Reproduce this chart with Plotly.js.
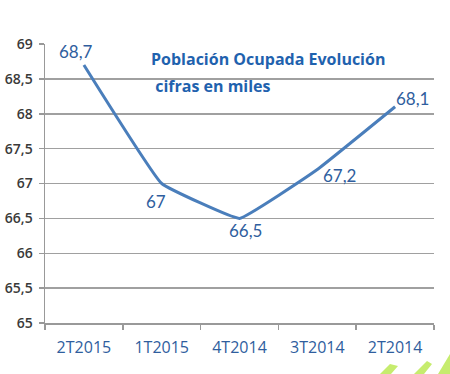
<!DOCTYPE html>
<html>
<head>
<meta charset="utf-8">
<script src="https://cdn.plot.ly/plotly-3.0.1.min.js"></script>
<style>html,body{margin:0;padding:0;background:#fff;}#chart{width:450px;height:374px;}</style>
</head>
<body>
<div id="chart"></div>
<script>
const categories = ["2T2015", "1T2015", "4T2014", "3T2014", "2T2014"];
const values = [68.7, 67.0, 66.5, 67.2, 68.1];
const labels = ["68,7", "67", "66,5", "67,2", "68,1"];
const titleLines = ["Población Ocupada Evolución", " cifras en miles"];

const labelShiftX = [-8, -6, 6, 22, 17];
const labelShiftY = [13, -18, -12, -6, 8];

const M = {l: 45, r: 16, t: 44, b: 51};
const W = 450, H = 374;
const pw = W - M.l - M.r, ph = H - M.t - M.b;
const px2x = v => (v - M.l) / pw;
const px2y = v => (H - M.b - v) / ph;

const annotations = categories.map((c, i) => ({
  x: c, y: values[i], xref: 'x', yref: 'y', text: labels[i], showarrow: false,
  xshift: labelShiftX[i], yshift: labelShiftY[i],
  font: {family: 'Lato, sans-serif', size: 17, color: '#2f5e9e'}
}));
[59, 86].forEach((yp, i) => annotations.push({
  xref: 'paper', yref: 'paper', x: px2x(149), y: px2y(yp), xanchor: 'left', yanchor: 'middle',
  showarrow: false, text: '<b>' + titleLines[i] + '</b>',
  font: {family: 'Open Sans, sans-serif', size: 16, color: '#1f62ae'}
}));

function poly(pts) {
  return pts.map((p, i) => (i ? 'L ' : 'M ') + px2x(p[0]).toFixed(4) + ' ' + px2y(p[1]).toFixed(4)).join(' ') + ' Z';
}
const green = '#c6ec6e';
const deco = [
  [[380, 374], [390, 364], [398, 366], [391, 374]],
  [[414, 374], [427, 361], [432, 364], [424, 374]],
  [[438, 374], [450, 354], [450, 374]]
].map(p => ({type: 'path', xref: 'paper', yref: 'paper', layer: 'below', path: poly(p),
  fillcolor: green, line: {width: 0}}));

Plotly.newPlot('chart', [{
  x: categories, y: values, type: 'scatter', mode: 'lines',
  line: {color: '#4a7ebb', width: 3, shape: 'spline', smoothing: 0.25},
  hoverinfo: 'none'
}], {
  width: W, height: H,
  margin: M,
  paper_bgcolor: '#ffffff', plot_bgcolor: '#ffffff',
  separators: ',.',
  showlegend: false,
  xaxis: {
    type: 'category', range: [-0.5, 4.5], tickson: 'boundaries',
    ticks: 'outside', ticklen: 5, tickcolor: '#999', tickwidth: 1.5,
    showgrid: false, showline: true, linecolor: '#999', linewidth: 1.5,
    tickfont: {family: 'Open Sans, sans-serif', size: 16, color: '#2f5e9e'},
    ticklabelstandoff: 9, fixedrange: true
  },
  yaxis: {
    range: [65, 69], dtick: 0.5, tick0: 65,
    ticks: 'outside', ticklen: 5, tickcolor: '#999', tickwidth: 1.5,
    showgrid: true, gridcolor: '#a0a0a0', gridwidth: 1.5,
    showline: true, linecolor: '#999', linewidth: 1.5, zeroline: false,
    tickfont: {family: 'Open Sans, sans-serif', size: 14, color: '#3a3a3a', weight: 600},
    ticklabelstandoff: 3,
    fixedrange: true
  },
  annotations: annotations,
  shapes: deco
}, {staticPlot: true});
</script>
</body>
</html>
